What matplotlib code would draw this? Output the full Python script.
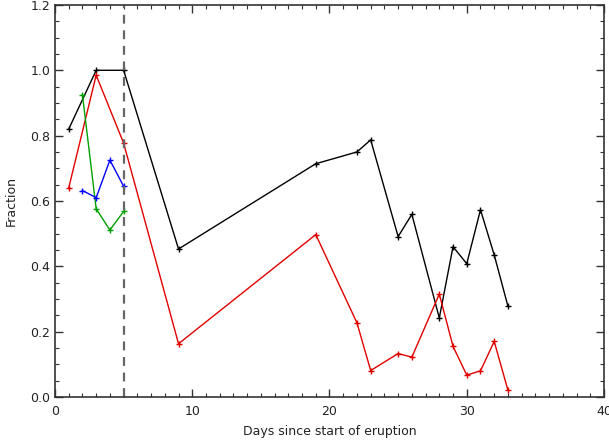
import matplotlib
matplotlib.use("Agg")
import matplotlib.pyplot as plt
from matplotlib.ticker import MultipleLocator

# days since start of eruption
days_long = [1, 3, 5, 9, 19, 22, 23, 25, 26, 28, 29, 30, 31, 32, 33]
black_vals = [0.82, 1.0, 1.0, 0.453, 0.714, 0.75, 0.787, 0.491, 0.559, 0.242,
              0.46, 0.408, 0.573, 0.435, 0.278]
red_vals = [0.64, 0.985, 0.777, 0.163, 0.497, 0.227, 0.081, 0.133, 0.122, 0.315,
            0.155, 0.067, 0.08, 0.17, 0.021]

days_short = [2, 3, 4, 5]
green_vals = [0.925, 0.576, 0.511, 0.568]
blue_vals = [0.632, 0.61, 0.725, 0.645]

vline_day = 5

fig = plt.figure(figsize=(6.09, 4.41), dpi=100)
ax = fig.add_axes([0.0903, 0.0998, 0.9015, 0.889])

ax.plot(days_long, black_vals, color="black", lw=1, marker="+", ms=5, mew=1)
ax.plot(days_long, red_vals, color="#e00000", lw=1, marker="+", ms=5, mew=1)
ax.plot(days_short, green_vals, color="#00a000", lw=1, marker="+", ms=5, mew=1)
ax.plot(days_short, blue_vals, color="#0000ff", lw=1, marker="+", ms=5, mew=1)

# start marker
ax.axvline(vline_day, color="#666666", lw=1.6, ls=(0, (4, 3)))

ax.set_xlim(0, 40)
ax.set_ylim(0, 1.2)
ax.xaxis.set_major_locator(MultipleLocator(10))
ax.xaxis.set_minor_locator(MultipleLocator(1))
ax.yaxis.set_major_locator(MultipleLocator(0.2))
ax.yaxis.set_minor_locator(MultipleLocator(0.05))
ax.set_yticklabels([f"{v:.1f}" for v in ax.get_yticks()])

ax.tick_params(which="both", direction="in", top=True, right=True,
               labelsize=9, color="#333333", labelcolor="#222222")
ax.tick_params(which="major", length=6, width=1)
ax.tick_params(which="minor", length=3, width=0.8)
ax.tick_params(axis="x", pad=6)
for sp in ax.spines.values():
    sp.set_linewidth(1.2)
    sp.set_color("#333333")

ax.set_xlabel("Days since start of eruption", fontsize=9, labelpad=5, color="#222222")
ax.set_ylabel("Fraction", fontsize=9, labelpad=9, color="#222222")

fig.savefig("out.png", dpi=100)
